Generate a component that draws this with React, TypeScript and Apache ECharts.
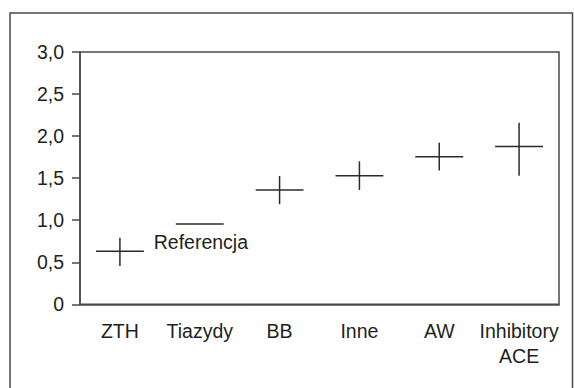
import React, { useEffect, useRef } from "react";
import * as echarts from "echarts";

const categories = ["ZTH", "Tiazydy", "BB", "Inne", "AW", "Inhibitory\nACE"];
const estimates = [0.63, 0.955, 1.36, 1.53, 1.755, 1.875];
const lowerCI: (number | null)[] = [0.455, null, 1.19, 1.36, 1.59, 1.53];
const upperCI: (number | null)[] = [0.79, null, 1.525, 1.7, 1.92, 2.16];
const referenceLabel = "Referencja";
const referenceIndex = 1;

const FONT = "'Liberation Sans', Arial, sans-serif";
const TEXT_COLOR = "#231f20";
const LINE_COLOR = "#2b2b2b";
const AXIS_COLOR = "#4a4a4a";

export default function App() {
  const ref = useRef<HTMLDivElement>(null);

  useEffect(() => {
    if (!ref.current) return;
    const chart = echarts.init(ref.current, null, { renderer: "svg" });
    const data = categories.map((_, i) => [
      i,
      estimates[i],
      lowerCI[i] == null ? NaN : lowerCI[i],
      upperCI[i] == null ? NaN : upperCI[i],
    ]);
    chart.setOption({
      animation: false,
      backgroundColor: "#ffffff",
      textStyle: { fontFamily: FONT },
      graphic: [
        {
          type: "rect",
          shape: { x: 10, y: 13, width: 562.5, height: 400 },
          style: { fill: "none", stroke: AXIS_COLOR, lineWidth: 1.5 },
          silent: true,
        },
      ],
      grid: {
        left: 80,
        right: 15,
        top: 52,
        bottom: 83.7,
        show: true,
        borderColor: AXIS_COLOR,
        borderWidth: 1.5,
        backgroundColor: "transparent",
      },
      xAxis: {
        type: "category",
        data: categories,
        boundaryGap: true,
        axisLine: { show: true, lineStyle: { color: AXIS_COLOR, width: 1.5 } },
        axisTick: { show: false },
        splitLine: { show: false },
        axisLabel: {
          color: TEXT_COLOR,
          fontSize: 19.5,
          fontFamily: FONT,
          margin: 14,
          lineHeight: 25,
          interval: 0,
        },
      },
      yAxis: {
        type: "value",
        min: 0,
        max: 3,
        interval: 0.5,
        axisLine: { show: true, lineStyle: { color: AXIS_COLOR, width: 1.5 } },
        axisTick: { show: true, length: 8, lineStyle: { color: AXIS_COLOR, width: 1.5 } },
        splitLine: { show: false },
        axisLabel: {
          color: TEXT_COLOR,
          fontSize: 19.5,
          fontFamily: FONT,
          margin: 16,
          formatter: (v: number) => (v === 0 ? "0" : v.toFixed(1).replace(".", ",")),
        },
      },
      series: [
        {
          type: "custom",
          data,
          renderItem: (params: any, api: any) => {
            const idx = api.value(0);
            const est = api.value(1);
            const lo = api.value(2);
            const hi = api.value(3);
            const c = api.coord([idx, est]);
            const half = api.size([1, 0])[0] * 0.3;
            const children: any[] = [
              {
                type: "line",
                shape: { x1: c[0] - half, y1: c[1], x2: c[0] + half, y2: c[1] },
                style: { stroke: LINE_COLOR, lineWidth: 1.5 },
              },
            ];
            if (!isNaN(lo) && !isNaN(hi)) {
              const pl = api.coord([idx, lo]);
              const ph = api.coord([idx, hi]);
              children.push({
                type: "line",
                shape: { x1: c[0], y1: pl[1], x2: c[0], y2: ph[1] },
                style: { stroke: LINE_COLOR, lineWidth: 1.5 },
              });
            }
            if (idx === referenceIndex) {
              children.push({
                type: "text",
                x: c[0] - 46,
                y: c[1] + 18,
                style: {
                  text: referenceLabel,
                  fill: TEXT_COLOR,
                  font: `19.5px ${FONT}`,
                  verticalAlign: "middle",
                  align: "left",
                },
              });
            }
            return { type: "group", children };
          },
        },
      ],
    });
    return () => chart.dispose();
  }, []);

  return (
    <div
      ref={ref}
      style={{ position: "absolute", left: 0, top: 0, width: 574, height: 388 }}
    />
  );
}
